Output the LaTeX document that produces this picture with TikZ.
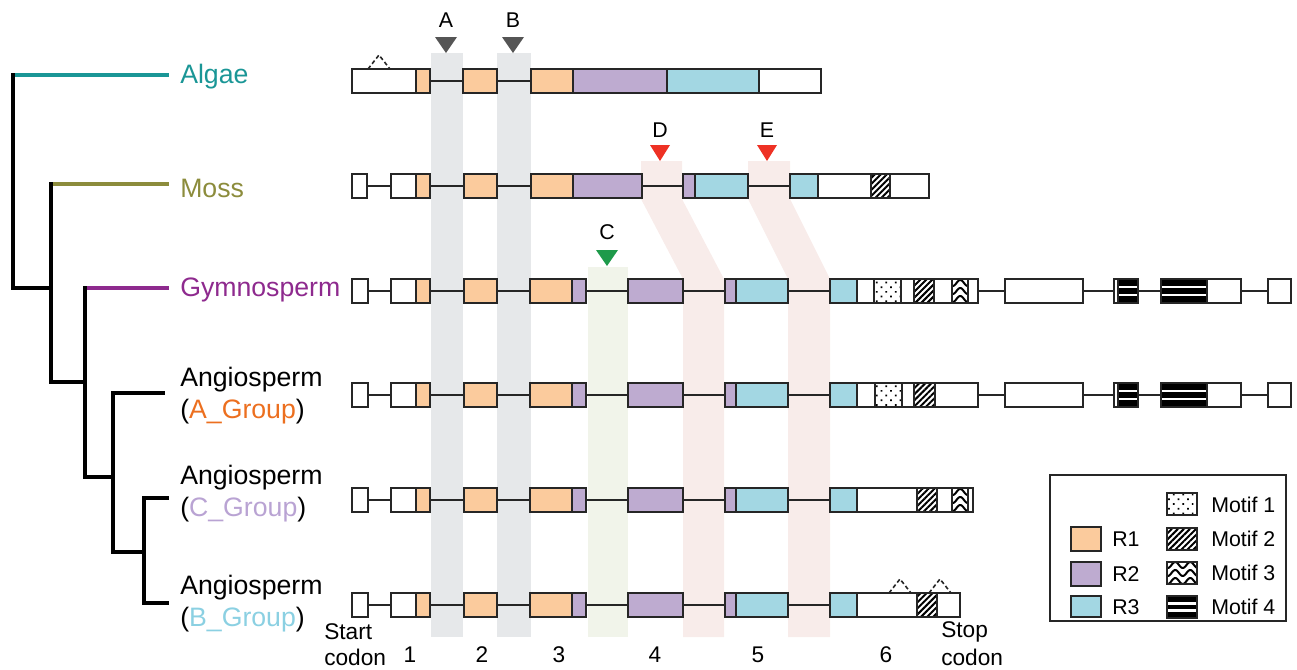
\documentclass[tikz,border=0pt]{standalone}
\usepackage{fontspec}
\setmainfont{Liberation Sans}
\usetikzlibrary{patterns.meta}
\definecolor{cR1}{HTML}{FBCB9D}
\definecolor{cR2}{HTML}{BEABD0}
\definecolor{cR3}{HTML}{A3D7E3}
\definecolor{exline}{HTML}{262626}
\definecolor{bandgray}{HTML}{E6E8EA}
\definecolor{bandgreen}{HTML}{F1F4EA}
\definecolor{bandpink}{HTML}{F8ECEA}
\definecolor{mkgray}{HTML}{555555}
\definecolor{mkred}{HTML}{EE3124}
\definecolor{mkgreen}{HTML}{1E9A4A}
\definecolor{cAlgae}{HTML}{1A9696}
\definecolor{cMoss}{HTML}{8C8C3C}
\definecolor{cGym}{HTML}{8E2A8E}
\definecolor{cAgrp}{HTML}{EC6F1F}
\definecolor{cCgrp}{HTML}{B9A3D3}
\definecolor{cBgrp}{HTML}{8BD0E2}
\tikzset{
  ex/.style={draw=exline, line width=1.4pt},
  w/.style={ex, fill=white},
  ra/.style={ex, fill=cR1},
  rb/.style={ex, fill=cR2},
  rc/.style={ex, fill=cR3},
  mone/.style={ex, preaction={fill=white}, pattern={Dots[radius=0.9pt,distance=5pt,angle=45]}},
  mtwo/.style={ex, preaction={fill=white}, pattern={Lines[angle=45,distance=3.2pt,line width=1.5pt]}},
  intron/.style={draw=exline, line width=1.4pt},
  tree/.style={line width=2.4pt, line cap=rect},
  lab/.style={anchor=west, inner sep=0pt, font=\fontsize{20}{24}\selectfont},
  bot/.style={inner sep=0pt, font=\fontsize{17}{20}\selectfont},
  leg/.style={anchor=west, inner sep=0pt, font=\fontsize{16}{19}\selectfont},
  mk/.style={inner sep=0pt, font=\fontsize{16}{19}\selectfont},
  dsh/.style={draw=exline, line width=1.2pt, dash pattern=on 3pt off 2pt},
}
\newcommand\mthree[4]{%
  \fill[white] (#1,#3-#4) rectangle (#2,#3+#4);
  \begin{scope}
    \clip (#1,#3-#4) rectangle (#2,#3+#4);
    \foreach \k in {-2,-1,0,1,2}{
      \draw[line width=1.5pt] plot[domain=0:#2-#1+6, samples=40, smooth] ({#1-3+\x}, {#3+\k*8+3*sin(\x*24)});
    }
  \end{scope}
  \draw[ex] (#1,#3-#4) rectangle (#2,#3+#4);
}
\newcommand\mfour[4]{%
  \fill[black] (#1,#3-#4) rectangle (#2,#3+#4);
  \draw[white, line width=2pt] (#1,#3-#4/3) -- (#2,#3-#4/3) (#1,#3+#4/3) -- (#2,#3+#4/3);
  \draw[ex] (#1,#3-#4) rectangle (#2,#3+#4);
}
\begin{document}
\begin{tikzpicture}[x=0.75pt,y=-0.75pt]
\useasboundingbox (0,0) rectangle (1297,669);

% ---------- bands ----------
\fill[bandgray] (431,53) rectangle (463,637);
\fill[bandgray] (497,53) rectangle (531,637);
\fill[bandgreen] (588,267) rectangle (628,637);
\fill[bandpink] (641,161) -- (682,161) -- (682,199) -- (724,279) -- (724,637) -- (683,637) -- (683,279) -- (641,199) -- cycle;
\fill[bandpink] (748,161) -- (790,161) -- (790,199) -- (830,279) -- (830,637) -- (788,637) -- (788,279) -- (748,199) -- cycle;

% ---------- markers ----------
\fill[mkgray] (435,37) -- (457,37) -- (446,53) -- cycle;
\fill[mkgray] (502,37) -- (524,37) -- (513,53) -- cycle;
\fill[mkgreen] (596,250) -- (618,250) -- (607,266) -- cycle;
\fill[mkred] (650,145) -- (670,145) -- (660,161) -- cycle;
\fill[mkred] (757,145) -- (777,145) -- (767,161) -- cycle;
\node[mk] (lA) at (446,20) {A};
\node[mk] (lB) at (513,20) {B};
\node[mk] (lC) at (607,232) {C};
\node[mk] (lD) at (660,130) {D};
\node[mk] (lE) at (767,130) {E};

% ---------- tree ----------
\draw[tree, cAlgae] (13,75) -- (167,75);
\draw[tree, cMoss] (51,184) -- (167,184);
\draw[tree, cGym] (85,288) -- (167,288);
\draw[tree] (13,75) -- (13,288) -- (51,288);
\draw[tree] (51,184) -- (51,382) -- (85,382);
\draw[tree] (85,288) -- (85,477) -- (113,477);
\draw[tree] (163,393) -- (113,393) -- (113,552) -- (144,552);
\draw[tree] (167,498) -- (144,498) -- (144,603) -- (167,603);

\node[lab, text=cAlgae] (tAlgae) at (180,77) {Algae};
\node[lab, text=cMoss] (tMoss) at (180,188) {Moss};
\node[lab, text=cGym] (tGym) at (180,290) {Gymnosperm};
\node[lab] (tA1) at (180,380) {Angiosperm};
\node[lab] (tA2) at (180,412) {(\textcolor{cAgrp}{A\_Group})};
\node[lab] (tC1) at (180,478) {Angiosperm};
\node[lab] (tC2) at (180,510) {(\textcolor{cCgrp}{C\_Group})};
\node[lab] (tB1) at (180,588) {Angiosperm};
\node[lab] (tB2) at (180,620) {(\textcolor{cBgrp}{B\_Group})};

% ---------- Algae ----------
\def\ry{81}
\draw[intron] (352,\ry) -- (821,\ry);
\foreach \a/\b/\s in {352/416/w,416/430/ra,463/497/ra,531/573/ra,573/667/rb,667/759/rc,759/821/w}
  \draw[\s] (\a,\ry-12) rectangle (\b,\ry+12);
\draw[dsh] (368,69) -- (379,55) -- (390,69);

% ---------- Moss ----------
\def\ry{186}
\draw[intron] (352,\ry) -- (929,\ry);
\foreach \a/\b/\s in {352/367/w,391/416/w,416/430/ra,464/497/ra,531/573/ra,573/642/rb,683/695/rb,695/748/rc,790/818/rc,818/871/w,871/890/mtwo,890/929/w}
  \draw[\s] (\a,\ry-12) rectangle (\b,\ry+12);

% ---------- Gymnosperm ----------
\def\ry{291}
\draw[intron] (352,\ry) -- (1291,\ry);
\foreach \a/\b/\s in {352/368/w,391/416/w,416/430/ra,464/497/ra,530/572/ra,572/586/rb,628/683/rb,725/736/rb,736/788/rc,830/857/rc,857/874/w,874/901/mone,901/914/w,914/934/mtwo,934/952/w,968/978/w,1005/1083/w,1114/1118/w,1207/1241/w,1268/1291/w}
  \draw[\s] (\a,\ry-12) rectangle (\b,\ry+12);
\mthree{952}{968}{\ry}{12}
\mfour{1118}{1138}{\ry}{12}
\mfour{1161}{1207}{\ry}{12}

% ---------- Angiosperm A ----------
\def\ry{395}
\draw[intron] (352,\ry) -- (1291,\ry);
\foreach \a/\b/\s in {352/368/w,391/416/w,416/430/ra,464/497/ra,530/572/ra,572/586/rb,628/683/rb,725/736/rb,736/788/rc,830/857/rc,857/875/w,875/902/mone,902/914/w,914/935/mtwo,935/978/w,1005/1083/w,1114/1118/w,1207/1241/w,1268/1291/w}
  \draw[\s] (\a,\ry-12) rectangle (\b,\ry+12);
\mfour{1118}{1138}{\ry}{12}
\mfour{1161}{1207}{\ry}{12}

% ---------- Angiosperm C ----------
\def\ry{500}
\draw[intron] (352,\ry) -- (973,\ry);
\foreach \a/\b/\s in {352/368/w,391/416/w,416/430/ra,464/497/ra,530/572/ra,572/586/rb,628/683/rb,725/736/rb,736/788/rc,830/857/rc,857/917/w,917/937/mtwo,937/952/w,968/973/w}
  \draw[\s] (\a,\ry-12) rectangle (\b,\ry+12);
\mthree{952}{968}{\ry}{12}

% ---------- Angiosperm B ----------
\def\ry{605}
\draw[intron] (352,\ry) -- (960,\ry);
\foreach \a/\b/\s in {352/368/w,391/416/w,416/430/ra,464/497/ra,530/572/ra,572/586/rb,628/683/rb,725/736/rb,736/788/rc,830/857/rc,857/917/w,917/937/mtwo,937/960/w}
  \draw[\s] (\a,\ry-12) rectangle (\b,\ry+12);
\draw[dsh] (889,593) -- (900,579) -- (911,593);
\draw[dsh] (929,593) -- (940,579) -- (951,593);

% ---------- bottom labels ----------
\node[bot, anchor=west] (st1) at (324,632) {Start};
\node[bot, anchor=west] (st2) at (324,657) {codon};
\node[bot, anchor=west] (sp1) at (941,632) {Stop};
\node[bot, anchor=west] (sp2) at (941,657) {codon};
\node[bot] (n1) at (410,655) {1};
\node[bot] (n2) at (482,655) {2};
\node[bot] (n3) at (559,655) {3};
\node[bot] (n4) at (655,655) {4};
\node[bot] (n5) at (758,655) {5};
\node[bot] (n6) at (886,655) {6};

% ---------- legend ----------
\draw[draw=exline, line width=1.2pt] (1050,475) rectangle (1286,621);
\draw[ra] (1071,527) rectangle (1101,551);
\draw[rb] (1071,562) rectangle (1101,586);
\draw[rc] (1071,596) rectangle (1101,617);
\node[leg] (gR1) at (1112,539) {R1};
\node[leg] (gR2) at (1112,574) {R2};
\node[leg] (gR3) at (1112,607) {R3};
\draw[mone] (1167,493) rectangle (1197,515);
\draw[mtwo] (1167,528) rectangle (1197,550);
\mthree{1167}{1197}{573}{11}
\mfour{1167}{1197}{607}{11}
\node[leg] (gM1) at (1211,505) {Motif 1};
\node[leg] (gM2) at (1211,539) {Motif 2};
\node[leg] (gM3) at (1211,573) {Motif 3};
\node[leg] (gM4) at (1211,607) {Motif 4};
\end{tikzpicture}
\end{document}
